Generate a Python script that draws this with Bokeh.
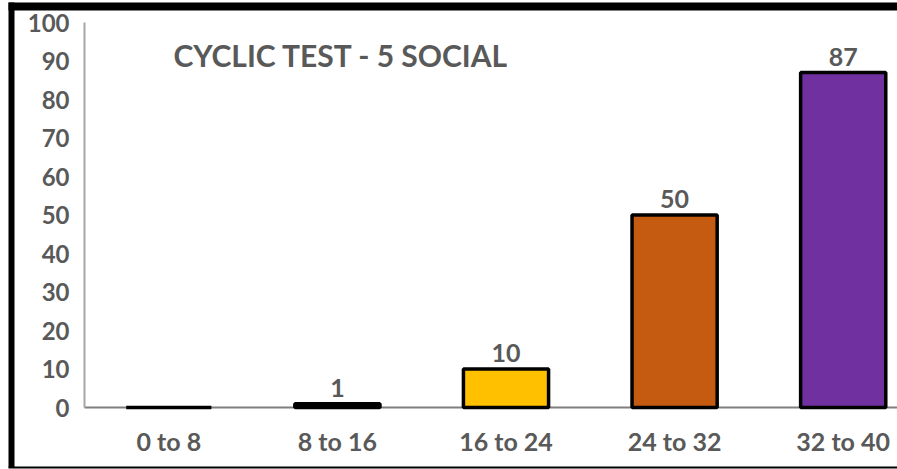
from bokeh.plotting import figure
from bokeh.models import Range1d, FixedTicker, ColumnDataSource, LabelSet, BoxAnnotation
from bokeh.core.properties import value
from bokeh.embed import file_html
from bokeh.resources import INLINE

title_text = "CYCLIC TEST - 5 SOCIAL"
categories = ["0 to 8", "8 to 16", "16 to 24", "24 to 32", "32 to 40"]
values = [0, 1, 10, 50, 87]
bar_colors = ["#4472C4", "#000000", "#FFC000", "#C55A11", "#7030A0"]
y_ticks = [0, 10, 20, 30, 40, 50, 60, 70, 80, 90, 100]

FONT = "Lato"
GRAY = "#595959"

# layout (pixels)
W, H = 897, 469
AX_X = 84.0      # pixel x of the value axis
AX_Y = 407.0     # pixel y of the category axis (value 0)
CAT_PX = 168.6   # pixels per category
VAL_PX = 3.85    # pixels per value unit

def dx(px):
    return -0.5 + (px - AX_X) / CAT_PX

def dy(py):
    return (AX_Y - py) / VAL_PX

xs = list(range(len(categories)))
src = ColumnDataSource(dict(x=xs, top=values, color=bar_colors))
lab_src = ColumnDataSource(dict(
    x=[x for x, v in zip(xs, values) if v > 0],
    y=[v for v in values if v > 0],
    text=[str(v) for v in values if v > 0],
))
title_src = ColumnDataSource(dict(x=[dx(173)], y=[dy(66)], text=[title_text]))

p = figure(width=W, height=H, x_range=Range1d(dx(0), dx(W)), y_range=Range1d(dy(H), dy(0)),
           output_backend="svg", toolbar_location=None,
           min_border_left=0, min_border_right=0, min_border_top=0, min_border_bottom=0)
p.background_fill_color = "white"
p.border_fill_color = "white"
p.outline_line_color = None
p.grid.visible = False

p.vbar(x="x", top="top", width=0.505, source=src, fill_color="color",
       line_color="black", line_width=3.5)

p.add_layout(LabelSet(x="x", y="y", text="text", source=lab_src, y_offset=7,
                      text_align="center", text_baseline="alphabetic",
                      text_font=value(FONT), text_font_style="bold",
                      text_font_size="25px", text_color=GRAY))

p.add_layout(LabelSet(x="x", y="y", text="text", source=title_src,
                      text_align="left", text_baseline="alphabetic",
                      text_font=value(FONT), text_font_style="bold",
                      text_font_size="30px", text_color=GRAY))

# axes, placed inside the frame, drawn beneath the bars
for ax in (p.xaxis[0], p.yaxis[0]):
    ax.level = "underlay"
    ax.major_tick_line_color = None
    ax.major_tick_out = 0
    ax.major_tick_in = 0
    ax.minor_tick_line_color = None
    ax.major_label_text_font = FONT
    ax.major_label_text_font_style = "bold"
    ax.major_label_text_color = GRAY
    ax.axis_line_width = 2

p.yaxis.fixed_location = -0.5
p.yaxis.bounds = (0, 100)
p.yaxis.ticker = FixedTicker(ticks=y_ticks)
p.yaxis.axis_line_color = "#a6a6a6"
p.yaxis.major_label_standoff = 15
p.yaxis.major_label_text_font_size = "24px"

p.xaxis.fixed_location = 0
p.xaxis.bounds = (-0.5, dx(W))
p.xaxis.ticker = FixedTicker(ticks=xs)
p.xaxis.major_label_overrides = {i: c for i, c in zip(xs, categories)}
p.xaxis.axis_line_color = "#7f7f7f"
p.xaxis.major_label_standoff = 18
p.xaxis.major_label_text_font_size = "25px"

# black frame of the picture
for l, r, t, b in [(8, 14, 2, 467), (8, W, 2, 10), (8, W, 466, 468)]:
    p.add_layout(BoxAnnotation(left=dx(l), right=dx(r), top=dy(t), bottom=dy(b),
                               fill_color="black", fill_alpha=1.0, line_color=None,
                               level="overlay"))

open("out.html", "w").write(file_html(p, INLINE))
